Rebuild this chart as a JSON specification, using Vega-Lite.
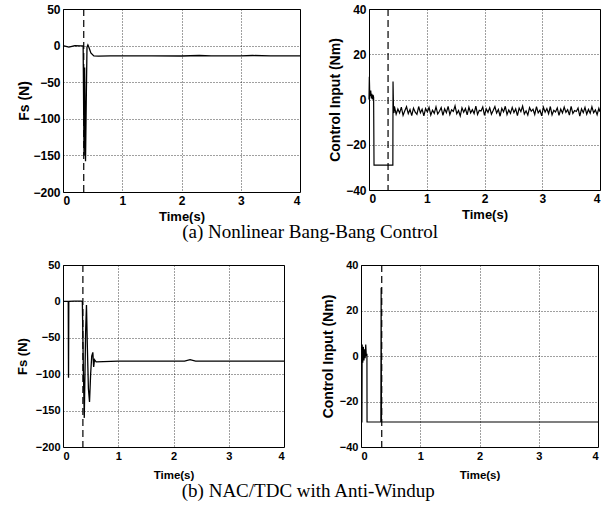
{
  "$schema": "https://vega.github.io/schema/vega-lite/v6.json",
  "background": "white",
  "padding": {"left": 15, "top": 2, "right": 2, "bottom": 2},
  "config": {
    "view": {"stroke": "black", "strokeWidth": 1},
    "axis": {
      "labelFont": "Liberation Sans", "labelFontWeight": "bold", "labelFontSize": 12, "labelColor": "black",
      "titleFont": "Liberation Sans", "titleFontWeight": "bold", "titleFontSize": 13, "titleColor": "black",
      "ticks": false, "domain": false, "grid": true, "gridColor": "black", "gridDash": [1, 2], "gridOpacity": 0.75,
      "labelPadding": 3
    }
  },
  "datasets": {
    "fs_a": [
      {"t": 0, "v": 0}, {"t": 0.05, "v": -1}, {"t": 0.1, "v": -2}, {"t": 0.15, "v": -1}, {"t": 0.2, "v": 0},
      {"t": 0.3, "v": -0.5}, {"t": 0.34, "v": -0.5}, {"t": 0.355, "v": -150}, {"t": 0.365, "v": -30},
      {"t": 0.38, "v": -158}, {"t": 0.395, "v": -60}, {"t": 0.405, "v": -2}, {"t": 0.42, "v": 1},
      {"t": 0.44, "v": -3}, {"t": 0.47, "v": -10}, {"t": 0.52, "v": -14}, {"t": 0.6, "v": -14.5},
      {"t": 0.8, "v": -14}, {"t": 1, "v": -14}, {"t": 1.5, "v": -14}, {"t": 2, "v": -14.2}, {"t": 2.3, "v": -13.5},
      {"t": 2.5, "v": -14}, {"t": 3, "v": -14}, {"t": 3.2, "v": -13.5}, {"t": 3.5, "v": -14}, {"t": 4, "v": -14}
    ],
    "u_a": [
      {"t": 0, "v": 0}, {"t": 0.006, "v": 10}, {"t": 0.012, "v": 3}, {"t": 0.02, "v": 1.5}, {"t": 0.03, "v": 4},
      {"t": 0.04, "v": 0.5}, {"t": 0.05, "v": 2.5}, {"t": 0.06, "v": 0}, {"t": 0.07, "v": 2}, {"t": 0.08, "v": 1},
      {"t": 0.087, "v": -29}, {"t": 0.2, "v": -29}, {"t": 0.3, "v": -29}, {"t": 0.413, "v": -29},
      {"t": 0.416, "v": 8}, {"t": 0.425, "v": -5}, {"t": 0.432, "v": -6},
      {"t": 0.44, "v": -3.0}, {"t": 0.47, "v": -6.5}, {"t": 0.50, "v": -4.2}, {"t": 0.53, "v": -6.0}, {"t": 0.56, "v": -3.4},
      {"t": 0.59, "v": -7.0}, {"t": 0.62, "v": -5.0}, {"t": 0.65, "v": -3.2}, {"t": 0.68, "v": -6.2}, {"t": 0.71, "v": -4.4},
      {"t": 0.74, "v": -7.1}, {"t": 0.77, "v": -3.8}, {"t": 0.80, "v": -5.6}, {"t": 0.83, "v": -6.6}, {"t": 0.86, "v": -3.1},
      {"t": 0.89, "v": -5.9}, {"t": 0.92, "v": -4.3}, {"t": 0.95, "v": -7.2}, {"t": 0.98, "v": -4.0}, {"t": 1.01, "v": -5.5},
      {"t": 1.04, "v": -3.5}, {"t": 1.07, "v": -6.9}, {"t": 1.10, "v": -4.7}, {"t": 1.13, "v": -6.1}, {"t": 1.16, "v": -3.3},
      {"t": 1.19, "v": -6.4}, {"t": 1.22, "v": -5.2}, {"t": 1.25, "v": -3.6}, {"t": 1.28, "v": -7.0}, {"t": 1.31, "v": -4.1},
      {"t": 1.34, "v": -5.8}, {"t": 1.37, "v": -3.0}, {"t": 1.40, "v": -6.7}, {"t": 1.43, "v": -4.6}, {"t": 1.46, "v": -5.3},
      {"t": 1.49, "v": -2.8}, {"t": 1.52, "v": -6.3}, {"t": 1.55, "v": -4.9}, {"t": 1.58, "v": -7.3}, {"t": 1.61, "v": -3.7},
      {"t": 1.64, "v": -5.6}, {"t": 1.67, "v": -4.0}, {"t": 1.70, "v": -6.8}, {"t": 1.73, "v": -3.4}, {"t": 1.76, "v": -5.9},
      {"t": 1.79, "v": -4.5}, {"t": 1.82, "v": -6.2}, {"t": 1.85, "v": -2.9}, {"t": 1.88, "v": -6.6}, {"t": 1.91, "v": -4.8},
      {"t": 1.94, "v": -5.1}, {"t": 1.97, "v": -3.3}, {"t": 2.00, "v": -7.0}, {"t": 2.03, "v": -4.2}, {"t": 2.06, "v": -5.7},
      {"t": 2.09, "v": -3.6}, {"t": 2.12, "v": -6.5}, {"t": 2.15, "v": -4.9}, {"t": 2.18, "v": -3.1}, {"t": 2.21, "v": -6.0},
      {"t": 2.24, "v": -4.4}, {"t": 2.27, "v": -7.4}, {"t": 2.30, "v": -3.9}, {"t": 2.33, "v": -5.5}, {"t": 2.36, "v": -3.0},
      {"t": 2.39, "v": -6.7}, {"t": 2.42, "v": -4.6}, {"t": 2.45, "v": -6.1}, {"t": 2.48, "v": -3.5}, {"t": 2.51, "v": -5.8},
      {"t": 2.54, "v": -4.1}, {"t": 2.57, "v": -7.1}, {"t": 2.60, "v": -3.8}, {"t": 2.63, "v": -5.4}, {"t": 2.66, "v": -2.9},
      {"t": 2.69, "v": -6.4}, {"t": 2.72, "v": -5.0}, {"t": 2.75, "v": -6.9}, {"t": 2.78, "v": -3.6}, {"t": 2.81, "v": -5.2},
      {"t": 2.84, "v": -4.3}, {"t": 2.87, "v": -6.6}, {"t": 2.90, "v": -3.2}, {"t": 2.93, "v": -5.9}, {"t": 2.96, "v": -4.7},
      {"t": 2.99, "v": -7.2}, {"t": 3.02, "v": -3.4}, {"t": 3.05, "v": -5.6}, {"t": 3.08, "v": -4.0}, {"t": 3.11, "v": -6.3},
      {"t": 3.14, "v": -3.1}, {"t": 3.17, "v": -6.8}, {"t": 3.20, "v": -4.8}, {"t": 3.23, "v": -5.5}, {"t": 3.26, "v": -3.7},
      {"t": 3.29, "v": -7.0}, {"t": 3.32, "v": -4.2}, {"t": 3.35, "v": -6.0}, {"t": 3.38, "v": -3.3}, {"t": 3.41, "v": -5.7},
      {"t": 3.44, "v": -4.5}, {"t": 3.47, "v": -6.9}, {"t": 3.50, "v": -3.0}, {"t": 3.53, "v": -6.2}, {"t": 3.56, "v": -4.9},
      {"t": 3.59, "v": -5.3}, {"t": 3.62, "v": -3.8}, {"t": 3.65, "v": -7.3}, {"t": 3.68, "v": -4.1}, {"t": 3.71, "v": -5.8},
      {"t": 3.74, "v": -3.5}, {"t": 3.77, "v": -6.5}, {"t": 3.80, "v": -4.4}, {"t": 3.83, "v": -6.1}, {"t": 3.86, "v": -3.2},
      {"t": 3.89, "v": -5.9}, {"t": 3.92, "v": -4.6}, {"t": 3.95, "v": -6.7}, {"t": 3.98, "v": -3.9}, {"t": 4.0, "v": -5.4}
    ],
    "fs_b": [
      {"t": 0, "v": 0}, {"t": 0.095, "v": 0}, {"t": 0.1, "v": -105}, {"t": 0.105, "v": 0}, {"t": 0.2, "v": 0.5},
      {"t": 0.33, "v": 0.5}, {"t": 0.35, "v": 0}, {"t": 0.37, "v": -100}, {"t": 0.385, "v": -160}, {"t": 0.41, "v": -40},
      {"t": 0.425, "v": -5}, {"t": 0.44, "v": -60}, {"t": 0.46, "v": -120}, {"t": 0.48, "v": -138}, {"t": 0.5, "v": -100},
      {"t": 0.52, "v": -75}, {"t": 0.54, "v": -70}, {"t": 0.555, "v": -90}, {"t": 0.57, "v": -80}, {"t": 0.6, "v": -83},
      {"t": 1, "v": -82}, {"t": 1.5, "v": -82}, {"t": 2.2, "v": -82}, {"t": 2.3, "v": -80}, {"t": 2.4, "v": -82}, {"t": 4, "v": -82}
    ],
    "u_b": [
      {"t": 0, "v": -29}, {"t": 0.015, "v": -29}, {"t": 0.02, "v": 5}, {"t": 0.03, "v": -3}, {"t": 0.04, "v": 4},
      {"t": 0.05, "v": -2}, {"t": 0.06, "v": 3}, {"t": 0.07, "v": -1}, {"t": 0.08, "v": 5}, {"t": 0.09, "v": 0},
      {"t": 0.1, "v": 1}, {"t": 0.102, "v": -29}, {"t": 0.2, "v": -29}, {"t": 0.335, "v": -29}, {"t": 0.34, "v": 30},
      {"t": 0.346, "v": -29}, {"t": 1, "v": -29}, {"t": 2, "v": -29}, {"t": 3, "v": -29}, {"t": 4, "v": -29}
    ]
  },
  "spacing": 16,
  "vconcat": [
    {
      "spacing": 24,
      "title": {"text": "(a) Nonlinear Bang-Bang Control", "orient": "bottom", "anchor": "middle", "font": "Liberation Serif", "fontSize": 19, "fontWeight": "normal", "color": "black", "offset": -1},
      "hconcat": [
        {
          "width": 237, "height": 183,
          "layer": [
            {
              "data": {"name": "fs_a"},
              "mark": {"type": "line", "color": "black", "strokeWidth": 1.3},
              "encoding": {
                "x": {"field": "t", "type": "quantitative", "scale": {"domain": [0, 4], "nice": false},
                      "axis": {"values": [0, 1, 2, 3, 4], "format": "d", "title": "Time(s)", "titlePadding": 4}},
                "y": {"field": "v", "type": "quantitative", "scale": {"domain": [-200, 50], "nice": false},
                      "axis": {"values": [-200, -150, -100, -50, 0, 50], "title": "Fs (N)", "titlePadding": 1, "titleFontSize": 14}}
              }
            },
            {
              "data": {"values": [{"t": 0.35}]},
              "mark": {"type": "rule", "color": "black", "strokeDash": [7, 4], "strokeWidth": 1.2},
              "encoding": {"x": {"field": "t", "type": "quantitative"}}
            }
          ]
        },
        {
          "width": 231, "height": 181,
          "layer": [
            {
              "data": {"name": "u_a"},
              "mark": {"type": "line", "color": "black", "strokeWidth": 1.2},
              "encoding": {
                "x": {"field": "t", "type": "quantitative", "scale": {"domain": [0, 4], "nice": false},
                      "axis": {"values": [0, 1, 2, 3, 4], "format": "d", "title": "Time(s)", "titlePadding": 4}},
                "y": {"field": "v", "type": "quantitative", "scale": {"domain": [-40, 40], "nice": false},
                      "axis": {"values": [-40, -20, 0, 20, 40], "title": "Control Input (Nm)", "titlePadding": 3, "titleFontSize": 14}}
              }
            },
            {
              "data": {"values": [{"t": 0.33}]},
              "mark": {"type": "rule", "color": "black", "strokeDash": [7, 4], "strokeWidth": 1.2},
              "encoding": {"x": {"field": "t", "type": "quantitative"}}
            }
          ]
        }
      ]
    },
    {
      "spacing": 32,
      "title": {"text": "(b) NAC/TDC with Anti-Windup", "orient": "bottom", "anchor": "middle", "font": "Liberation Serif", "fontSize": 19, "fontWeight": "normal", "color": "black", "offset": 1},
      "hconcat": [
        {
          "width": 221, "height": 182,
          "layer": [
            {
              "data": {"name": "fs_b"},
              "mark": {"type": "line", "color": "black", "strokeWidth": 1.3},
              "encoding": {
                "x": {"field": "t", "type": "quantitative", "scale": {"domain": [0, 4], "nice": false},
                      "axis": {"values": [0, 1, 2, 3, 4], "format": "d", "title": "Time(s)", "titlePadding": 8, "labelFontSize": 11, "titleFontSize": 11.5}},
                "y": {"field": "v", "type": "quantitative", "scale": {"domain": [-200, 50], "nice": false},
                      "axis": {"values": [-200, -150, -100, -50, 0, 50], "title": "Fs (N)", "titlePadding": 6, "labelFontSize": 11, "titleFontSize": 13}}
              }
            },
            {
              "data": {"values": [{"t": 0.36}]},
              "mark": {"type": "rule", "color": "black", "strokeDash": [7, 4], "strokeWidth": 1.2},
              "encoding": {"x": {"field": "t", "type": "quantitative"}}
            }
          ]
        },
        {
          "width": 237, "height": 182,
          "layer": [
            {
              "data": {"name": "u_b"},
              "mark": {"type": "line", "color": "black", "strokeWidth": 1.2},
              "encoding": {
                "x": {"field": "t", "type": "quantitative", "scale": {"domain": [0, 4], "nice": false},
                      "axis": {"values": [0, 1, 2, 3, 4], "format": "d", "title": "Time(s)", "titlePadding": 8, "labelFontSize": 11, "titleFontSize": 11.5}},
                "y": {"field": "v", "type": "quantitative", "scale": {"domain": [-40, 40], "nice": false},
                      "axis": {"values": [-40, -20, 0, 20, 40], "title": "Control Input (Nm)", "titlePadding": 4, "labelFontSize": 11, "titleFontSize": 14}}
              }
            },
            {
              "data": {"values": [{"t": 0.35}]},
              "mark": {"type": "rule", "color": "black", "strokeDash": [7, 4], "strokeWidth": 1.2},
              "encoding": {"x": {"field": "t", "type": "quantitative"}}
            }
          ]
        }
      ]
    }
  ]
}
